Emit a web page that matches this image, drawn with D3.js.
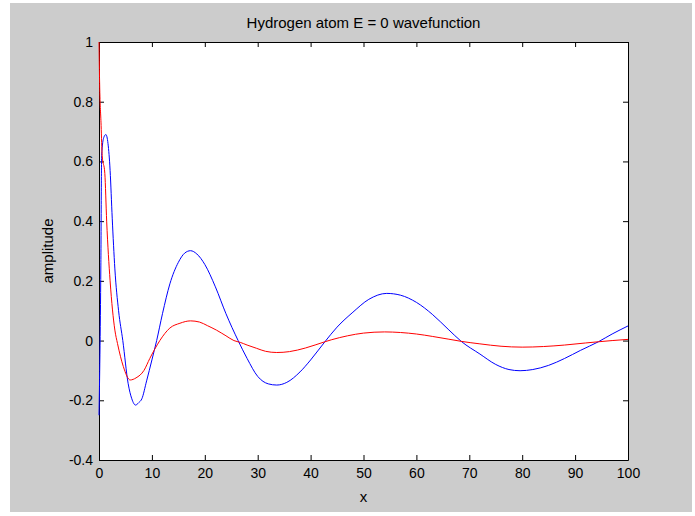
<!DOCTYPE html>
<html>
<head>
<meta charset="utf-8">
<script src="https://cdn.jsdelivr.net/npm/d3@7"></script>
<style>
  body { margin: 0; background: #fff; }
  text { font-family: "Liberation Sans", Arial, sans-serif; fill: #000; }
</style>
</head>
<body>
<script>

// chart texts
var titleText = "Hydrogen atom E = 0 wavefunction";
var xLabel = "x";
var yLabel = "amplitude";

// tick values
var xTicks = [0, 10, 20, 30, 40, 50, 60, 70, 80, 90, 100];
var yTicks = [-0.4, -0.2, 0, 0.2, 0.4, 0.6, 0.8, 1];

// blue series as [x, amplitude]
var blueSeries = [
  [0, -0.25], [0.35, 0.25], [0.5, 0.62], [0.9, 0.68], [1.3, 0.69], [1.7, 0.66],
  [2.1, 0.57], [2.5, 0.41], [3.0, 0.24], [3.7, 0.1], [4.5, 0], [5.5, -0.143],
  [6.2, -0.195], [6.9, -0.216], [7.5, -0.208], [8.1, -0.195], [9, -0.135],
  [10, -0.065], [10.9, 0], [12, 0.09], [13.4, 0.19], [15, 0.262], [16.2, 0.293],
  [17.3, 0.301], [18.5, 0.29], [20, 0.255], [22, 0.18], [24, 0.09], [26.3, 0],
  [28, -0.06], [30, -0.12], [32, -0.145], [33.6, -0.149], [35.5, -0.14],
  [38, -0.105], [40, -0.065], [42.7, -0.004], [45, 0.045], [48, 0.095],
  [51, 0.138], [54.4, 0.158], [57, 0.152], [60, 0.128], [63, 0.088], [66, 0.038],
  [68.5, -0.003], [72, -0.045], [75, -0.08], [77.5, -0.097], [79.6, -0.101],
  [82, -0.097], [85, -0.083], [88, -0.06], [91, -0.033], [94.4, -0.004],
  [97, 0.022], [100, 0.049]
];

// red series as [x, amplitude]
var redSeries = [
  [0, 1.0], [0.1, 0.88], [0.4, 0.72], [0.6, 0.62], [1.1, 0.56], [1.45, 0.4],
  [2.1, 0.2], [3.0, 0.035], [3.5, -0.01], [4.6, -0.087], [5.9, -0.132], [7, -0.125],
  [8.5, -0.1], [9.6, -0.06], [10.5, -0.03], [11.5, 0], [13.4, 0.042], [15.3, 0.058],
  [17.3, 0.066], [19, 0.062], [20.5, 0.05], [22.2, 0.035], [24, 0.016], [25.5, 0],
  [26.7, -0.006], [28, -0.015], [29.8, -0.026], [31.5, -0.036], [33.6, -0.04],
  [36, -0.037], [39, -0.025], [42.7, -0.004], [44, 0.003], [47, 0.016], [50, 0.025],
  [54, 0.029], [57, 0.027], [60, 0.022], [63, 0.014], [66, 0.005], [68.6, -0.003],
  [72, -0.011], [76, -0.019], [80, -0.022], [84, -0.02], [88, -0.015], [92, -0.008],
  [94.4, -0.004], [97, 0.0], [100, 0.004]
];

window.onload = function() {

  var chartPad = {
    w: 695,
    h: 516,
    left: 99,
    right: 628,
    top: 42,
    bottom: 460
  };

  drawChart(chartPad);
};

function drawChart(chartPad) {

  // svg field
  var svg = d3.select("body")
    .append("svg")
      .attr("width", chartPad.w)
      .attr("height", chartPad.h);

  // grey figure background
  svg.append("rect")
    .attr("x", 10)
    .attr("y", 3)
    .attr("width", 682)
    .attr("height", 509)
    .attr("fill", "#cccccc");

  // white axes area
  svg.append("rect")
    .attr("x", chartPad.left)
    .attr("y", chartPad.top)
    .attr("width", chartPad.right - chartPad.left)
    .attr("height", chartPad.bottom - chartPad.top)
    .attr("fill", "#fff");

  var xScale = d3.scaleLinear()
    .domain([0, 100])
    .range([chartPad.left, chartPad.right]);

  var yScale = d3.scaleLinear()
    .domain([-0.4, 1])
    .range([chartPad.bottom, chartPad.top]);

  // axes with inward ticks, labels on bottom and left only
  var xAxis = d3.axisBottom(xScale)
    .tickValues(xTicks)
    .tickFormat(d3.format("d"))
    .tickSizeInner(-5)
    .tickSizeOuter(0)
    .tickPadding(8);

  var yAxis = d3.axisLeft(yScale)
    .tickValues(yTicks)
    .tickFormat(function(d) { return String(+d.toFixed(1)); })
    .tickSizeInner(-5)
    .tickSizeOuter(0)
    .tickPadding(6);

  var xAxisTop = d3.axisTop(xScale)
    .tickValues(xTicks)
    .tickFormat("")
    .tickSizeInner(-5)
    .tickSizeOuter(0);

  var yAxisRight = d3.axisRight(yScale)
    .tickValues(yTicks)
    .tickFormat("")
    .tickSizeInner(-5)
    .tickSizeOuter(0);

  var axes = [
    [xAxis, "translate(0," + chartPad.bottom + ")"],
    [yAxis, "translate(" + chartPad.left + ",0)"],
    [xAxisTop, "translate(0," + chartPad.top + ")"],
    [yAxisRight, "translate(" + chartPad.right + ",0)"]
  ];

  axes.forEach(function(a) {
    var g = svg.append("g")
      .attr("transform", a[1])
      .call(a[0]);
    g.selectAll("text")
      .style("font-family", "'Liberation Sans', Arial, sans-serif")
      .style("font-size", "14px")
      .attr("fill", "#000");
    g.select(".domain").attr("stroke", "#000");
    g.selectAll(".tick line").attr("stroke", "#000");
  });

  // smooth lines through the read points
  var line = d3.line()
    .curve(d3.curveMonotoneX)
    .x(function(d) { return xScale(d[0]); })
    .y(function(d) { return yScale(d[1]); });

  svg.append("path")
    .datum(blueSeries)
    .attr("d", line)
    .attr("fill", "none")
    .attr("stroke", "#0000ff")
    .attr("stroke-width", 1);

  svg.append("path")
    .datum(redSeries)
    .attr("d", line)
    .attr("fill", "none")
    .attr("stroke", "#ff0000")
    .attr("stroke-width", 1);

  // title and axis labels
  svg.append("text")
    .attr("x", (chartPad.left + chartPad.right) / 2)
    .attr("y", 28)
    .attr("text-anchor", "middle")
    .style("font-size", "15px")
    .text(titleText);

  svg.append("text")
    .attr("x", (chartPad.left + chartPad.right) / 2)
    .attr("y", 502)
    .attr("text-anchor", "middle")
    .style("font-size", "15px")
    .text(xLabel);

  svg.append("text")
    .attr("transform", "translate(53," + (chartPad.top + chartPad.bottom) / 2 + ") rotate(-90)")
    .attr("text-anchor", "middle")
    .style("font-size", "15px")
    .text(yLabel);
}

</script>
</body>
</html>
